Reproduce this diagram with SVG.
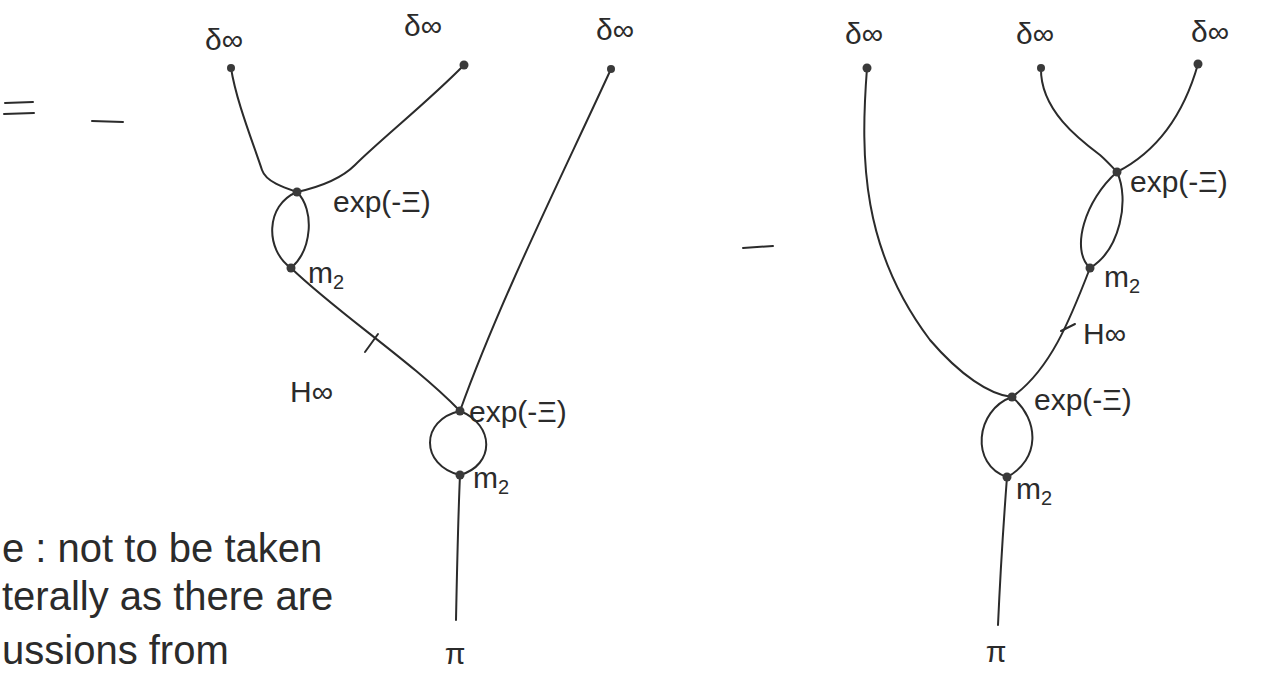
<svg xmlns="http://www.w3.org/2000/svg" width="1275" height="675" viewBox="0 0 1275 675">
<style>
.e{fill:none;stroke:#2b2b2b;stroke-width:2;stroke-linecap:round}
.d{fill:#3a3a3a}
.t{font-family:"Liberation Sans","DejaVu Sans",sans-serif;fill:#2b2b2b}
.lb{font-size:30px}
.lf{font-size:30px}
.nt{font-size:40px}
</style>
<rect width="1275" height="675" fill="#ffffff"/>
<g id="signs">
<path class="e" d="M5 103 L33 102 M4 114 L34 113 M92 121 L123 122 M743 248 L773 246" stroke-width="2.5"/>
</g>
<g id="connectors">
<!-- left tree -->
<path class="e" d="M231 68 C236 100 252 140 262 170 C266 182 285 188 297 192"/>
<path class="e" d="M464 65 C430 100 380 140 355 165 C340 180 315 188 297 192"/>
<path class="e" d="M297 192 C265 205 265 250 291 268"/>
<path class="e" d="M297 192 C315 210 312 250 291 268"/>
<path class="e" d="M291 268 C340 315 410 360 460 411"/>
<path class="e" d="M365 352 L378 334"/>
<path class="e" d="M611 69 C560 180 500 300 460 411"/>
<path class="e" d="M460 411 C420 420 420 465 460 475"/>
<path class="e" d="M460 411 C495 425 495 465 460 475"/>
<path class="e" d="M460 475 C458 520 457 570 456 620"/>
<!-- right tree -->
<path class="e" d="M867 68 C860 160 862 250 930 340 C960 375 990 395 1012 397"/>
<path class="e" d="M1041 68 C1040 110 1080 140 1100 155 C1108 162 1113 168 1117 172"/>
<path class="e" d="M1198 64 C1185 110 1160 150 1117 172"/>
<path class="e" d="M1117 172 C1085 200 1070 250 1090 268"/>
<path class="e" d="M1117 172 C1130 200 1120 250 1090 268"/>
<path class="e" d="M1090 268 C1070 320 1050 370 1012 397"/>
<path class="e" d="M1061 331 L1075 324"/>
<path class="e" d="M1012 397 C975 410 970 465 1007 477"/>
<path class="e" d="M1012 397 C1040 420 1040 460 1007 477"/>
<path class="e" d="M1007 477 C1003 530 1000 580 998 625"/>
</g>
<g id="leaf-l1"><circle class="d" cx="231" cy="68" r="4"/><text class="t lb" x="224" y="50" text-anchor="middle">δ∞</text></g>
<g id="leaf-l2"><circle class="d" cx="464" cy="65" r="4.5"/><text class="t lb" x="423" y="36" text-anchor="middle">δ∞</text></g>
<g id="leaf-l3"><circle class="d" cx="611" cy="69" r="4"/><text class="t lb" x="615" y="40" text-anchor="middle">δ∞</text></g>
<g id="exp-l1"><circle class="d" cx="297" cy="192" r="4.5"/><text class="t lf" x="333" y="212">exp(-Ξ)</text></g>
<g id="m2-l1"><circle class="d" cx="291" cy="268" r="4.5"/><text class="t lf" x="308" y="283">m<tspan font-size="20" dy="6">2</tspan></text></g>
<g id="hinf-l"><text class="t lf" x="290" y="402">H∞</text></g>
<g id="exp-l2"><circle class="d" cx="460" cy="411" r="4.5"/><text class="t lf" x="469" y="422">exp(-Ξ)</text></g>
<g id="m2-l2"><circle class="d" cx="460" cy="475" r="4.5"/><text class="t lf" x="473" y="488">m<tspan font-size="20" dy="6">2</tspan></text></g>
<g id="pi-l"><text class="t lf" x="455" y="664" text-anchor="middle">π</text></g>
<g id="leaf-r1"><circle class="d" cx="867" cy="68" r="4.5"/><text class="t lb" x="864" y="44" text-anchor="middle">δ∞</text></g>
<g id="leaf-r2"><circle class="d" cx="1041" cy="68" r="4"/><text class="t lb" x="1035" y="44" text-anchor="middle">δ∞</text></g>
<g id="leaf-r3"><circle class="d" cx="1198" cy="64" r="4.5"/><text class="t lb" x="1210" y="42" text-anchor="middle">δ∞</text></g>
<g id="exp-r1"><circle class="d" cx="1117" cy="172" r="4.5"/><text class="t lf" x="1130" y="192">exp(-Ξ)</text></g>
<g id="m2-r1"><circle class="d" cx="1090" cy="268" r="4.5"/><text class="t lf" x="1104" y="287">m<tspan font-size="20" dy="6">2</tspan></text></g>
<g id="hinf-r"><text class="t lf" x="1083" y="344">H∞</text></g>
<g id="exp-r2"><circle class="d" cx="1012" cy="397" r="4.5"/><text class="t lf" x="1034" y="410">exp(-Ξ)</text></g>
<g id="m2-r2"><circle class="d" cx="1007" cy="477" r="4.5"/><text class="t lf" x="1016" y="499">m<tspan font-size="20" dy="6">2</tspan></text></g>
<g id="pi-r"><text class="t lf" x="996" y="662" text-anchor="middle">π</text></g>
<g id="note">
<text class="t nt" x="2" y="562">e : not to be taken</text>
<text class="t nt" x="2" y="610">terally as there are</text>
<text class="t nt" x="2" y="664">ussions from</text>
</g>
</svg>
